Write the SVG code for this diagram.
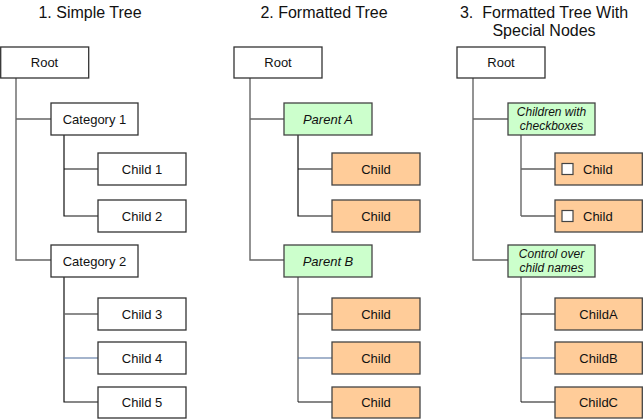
<svg xmlns="http://www.w3.org/2000/svg" width="643" height="419" viewBox="0 0 643 419">
<style>
.title{font-family:"Liberation Sans",Arial,sans-serif;font-size:16px;fill:#111;text-anchor:middle}
.t{font-family:"Liberation Sans",Arial,sans-serif;font-size:13px;fill:#111;text-anchor:middle}
.it{font-family:"Liberation Sans",Arial,sans-serif;font-style:italic;font-size:13px;fill:#111;text-anchor:middle}
.its{font-family:"Liberation Sans",Arial,sans-serif;font-style:italic;font-size:12px;fill:#111;text-anchor:middle}
.w{fill:#fff;stroke:#333;stroke-width:1.3}
.g{fill:#ccffcc;stroke:#444;stroke-width:1.3}
.o{fill:#ffcc99;stroke:#444;stroke-width:1.3}
.cb{fill:#fff;stroke:#444;stroke-width:1.2}
.lg{fill:none;stroke:#666;stroke-width:1.4}
.lk{fill:none;stroke:#111;stroke-width:1.2}
.lb{fill:none;stroke:#4a6a9a;stroke-width:1.2}
</style>
<text class="title" x="90" y="17.5">1. Simple Tree</text>
<text class="title" x="324" y="17.5">2. Formatted Tree</text>
<text class="title" x="544" y="17.5" xml:space="preserve">3.  Formatted Tree With</text>
<text class="title" x="544" y="35.5">Special Nodes</text>
<g id="connectors">
<path class="lg" d="M16,78 V260 H51 M16,119 H51"/>
<path class="lk" d="M64,135 V216 H98 M64,169 H98"/>
<path class="lk" d="M64,277 V402 H98"/>
<path class="lg" d="M64,314 H98"/>
<path class="lb" d="M64,358 H98"/>
<path class="lg" d="M250,78 V260 H284 M250,119 H284"/>
<path class="lk" d="M298,135 V216 H332 M298,169 H332"/>
<path class="lg" d="M298,277 V402"/>
<path class="lk" d="M298,314 H332 M298,402 H332"/>
<path class="lb" d="M298,358 H332"/>
<path class="lg" d="M473,78 V260 H508 M473,119 H508"/>
<path class="lk" d="M521,169 H555 M521,216 H555"/>
<path class="lg" d="M521,135 V216"/>
<path class="lg" d="M521,277 V402"/>
<path class="lk" d="M521,314 H555 M521,402 H555"/>
<path class="lb" d="M521,358 H555"/>
</g>
<g id="t1-root"><rect class="w" x="0.7" y="47" width="88" height="31"/><text class="t" x="44.5" y="67">Root</text></g>
<g id="t1-cat1"><rect class="w" x="51" y="103" width="87" height="32"/><text class="t" x="94.5" y="123.5">Category 1</text></g>
<g id="t1-child1"><rect class="w" x="98" y="153" width="88" height="32"/><text class="t" x="142" y="173.5">Child 1</text></g>
<g id="t1-child2"><rect class="w" x="98" y="200" width="88" height="32"/><text class="t" x="142" y="220.5">Child 2</text></g>
<g id="t1-cat2"><rect class="w" x="51" y="245" width="87" height="32"/><text class="t" x="94.5" y="265.5">Category 2</text></g>
<g id="t1-child3"><rect class="w" x="98" y="298" width="88" height="32"/><text class="t" x="142" y="318.5">Child 3</text></g>
<g id="t1-child4"><rect class="w" x="98" y="342" width="88" height="32"/><text class="t" x="142" y="362.5">Child 4</text></g>
<g id="t1-child5"><rect class="w" x="98" y="387" width="88" height="31"/><text class="t" x="142" y="407">Child 5</text></g>
<g id="t2-root"><rect class="w" x="234" y="47" width="88" height="31"/><text class="t" x="278" y="67">Root</text></g>
<g id="t2-parentA"><rect class="g" x="284" y="103" width="88" height="32"/><text class="it" x="328" y="123.5">Parent A</text></g>
<g id="t2-childA1"><rect class="o" x="332" y="153" width="88" height="32"/><text class="t" x="376" y="173.5">Child</text></g>
<g id="t2-childA2"><rect class="o" x="332" y="200" width="88" height="32"/><text class="t" x="376" y="220.5">Child</text></g>
<g id="t2-parentB"><rect class="g" x="284" y="245" width="88" height="32"/><text class="it" x="328" y="265.5">Parent B</text></g>
<g id="t2-childB1"><rect class="o" x="332" y="298" width="88" height="32"/><text class="t" x="376" y="318.5">Child</text></g>
<g id="t2-childB2"><rect class="o" x="332" y="342" width="88" height="32"/><text class="t" x="376" y="362.5">Child</text></g>
<g id="t2-childB3"><rect class="o" x="332" y="387" width="88" height="31"/><text class="t" x="376" y="407">Child</text></g>
<g id="t3-root"><rect class="w" x="457" y="47" width="88" height="31"/><text class="t" x="501" y="67">Root</text></g>
<g id="t3-checkparent"><rect class="g" x="508" y="103" width="87" height="32"/><text class="its" x="551.5" y="115.5">Children with</text><text class="its" x="551.5" y="129.5">checkboxes</text></g>
<g id="t3-check1"><rect class="o" x="555" y="153" width="87.3" height="32"/><rect class="cb" x="562" y="163.5" width="11" height="11"/><text class="t" x="583" y="173.5" style="text-anchor:start">Child</text></g>
<g id="t3-check2"><rect class="o" x="555" y="200" width="87.3" height="32"/><rect class="cb" x="562" y="210.5" width="11" height="11"/><text class="t" x="583" y="220.5" style="text-anchor:start">Child</text></g>
<g id="t3-nameparent"><rect class="g" x="508" y="245" width="87" height="32"/><text class="its" x="551.5" y="258">Control over</text><text class="its" x="551.5" y="272">child names</text></g>
<g id="t3-childA"><rect class="o" x="555" y="298" width="87.3" height="32"/><text class="t" x="598.5" y="318.5">ChildA</text></g>
<g id="t3-childB"><rect class="o" x="555" y="342" width="87.3" height="32"/><text class="t" x="598.5" y="362.5">ChildB</text></g>
<g id="t3-childC"><rect class="o" x="555" y="387" width="87.3" height="31"/><text class="t" x="598.5" y="407">ChildC</text></g>
</svg>
